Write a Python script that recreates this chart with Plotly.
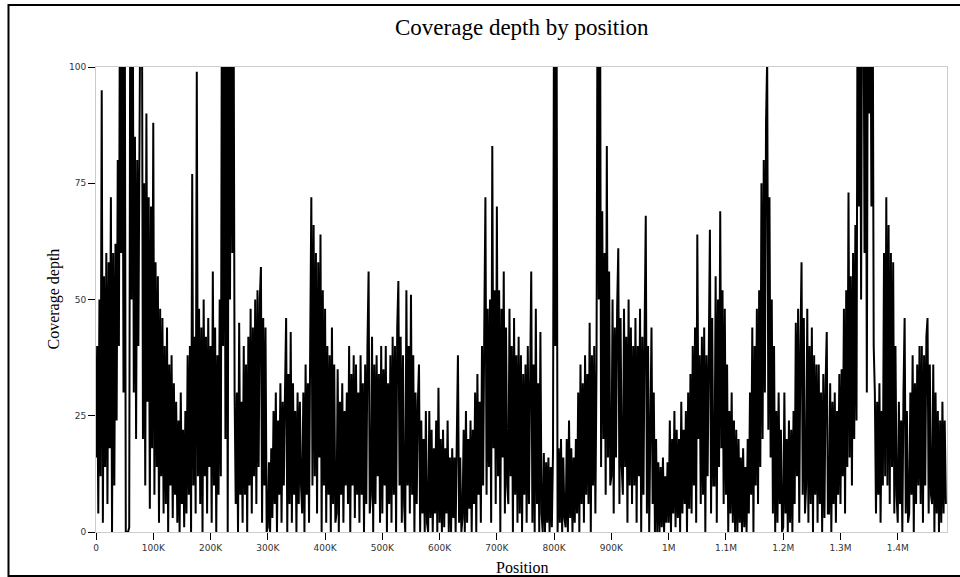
import plotly.graph_objects as go

# Coverage depth values, one value every 2 kb (peaks above 100 are clipped)
depth = [
    16, 40, 4, 50, 12, 95, 2, 55, 14, 60,
    6, 58, 18, 72, 0, 60, 10, 62, 24, 80,
    40, 130, 60, 130, 30, 130, 0, 0, 0, 1,
    130, 50, 130, 30, 85, 20, 80, 40, 88, 130,
    130, 20, 75, 10, 90, 28, 72, 5, 70, 18,
    88, 8, 58, 14, 55, 2, 48, 12, 46, 4,
    40, 6, 44, 0, 36, 10, 38, 3, 32, 8,
    28, 2, 24, 0, 30, 6, 22, 1, 26, 4,
    38, 8, 40, 0, 77, 10, 42, 4, 99, 12,
    48, 6, 44, 0, 50, 12, 42, 4, 46, 14,
    40, 2, 56, 10, 44, 0, 38, 8, 50, 12,
    130, 40, 130, 20, 130, 0, 130, 50, 130, 60,
    130, 30, 6, 30, 0, 45, 8, 28, 2, 40,
    8, 36, 0, 42, 10, 48, 4, 44, 12, 50,
    6, 52, 14, 50, 57, 2, 46, 10, 44, 0,
    1, 15, 0, 18, 3, 26, 6, 30, 0, 24,
    8, 32, 2, 28, 10, 30, 46, 0, 34, 6,
    43, 2, 32, 8, 26, 0, 30, 6, 28, 10,
    4, 30, 0, 36, 8, 32, 2, 40, 72, 10,
    66, 12, 60, 4, 58, 16, 64, 0, 52, 10,
    48, 2, 40, 8, 38, 0, 44, 6, 36, 2,
    4, 35, 0, 28, 8, 32, 2, 26, 10, 30,
    6, 40, 0, 34, 10, 38, 3, 36, 8, 30,
    2, 38, 8, 32, 0, 36, 6, 40, 56, 4,
    8, 42, 0, 36, 6, 38, 12, 34, 2, 40,
    4, 35, 10, 40, 0, 32, 6, 38, 2, 42,
    8, 40, 0, 44, 54, 10, 42, 2, 38, 6,
    0, 52, 10, 40, 4, 51, 8, 38, 0, 30,
    6, 28, 36, 0, 24, 4, 20, 0, 26, 2,
    0, 26, 3, 22, 0, 18, 4, 24, 0, 31,
    2, 20, 0, 22, 1, 18, 4, 24, 0, 16,
    0, 18, 3, 16, 0, 20, 38, 2, 16, 0,
    3, 22, 0, 26, 2, 20, 5, 24, 0, 22,
    6, 30, 0, 34, 8, 28, 2, 40, 10, 44,
    72, 8, 48, 14, 50, 2, 83, 18, 52, 6,
    70, 12, 52, 0, 48, 16, 56, 4, 44, 10,
    6, 48, 12, 40, 0, 46, 8, 38, 2, 42,
    4, 38, 0, 34, 8, 36, 2, 40, 6, 32,
    56, 2, 36, 0, 48, 6, 32, 0, 43, 4,
    0, 17, 0, 15, 2, 16, 0, 14, 1, 17,
    130, 40, 130, 0, 18, 2, 20, 0, 16, 3,
    1, 20, 0, 24, 3, 18, 0, 16, 2, 20,
    4, 30, 0, 36, 6, 32, 2, 38, 8, 34,
    6, 45, 0, 38, 10, 40, 4, 36, 130, 50,
    130, 14, 69, 20, 60, 8, 83, 16, 56, 10,
    12, 50, 4, 44, 16, 48, 61, 6, 46, 14,
    8, 48, 14, 42, 2, 50, 10, 44, 6, 40,
    10, 46, 2, 40, 12, 48, 0, 42, 8, 44,
    68, 4, 40, 0, 32, 44, 6, 30, 0, 20,
    0, 15, 0, 14, 1, 16, 0, 12, 2, 15,
    2, 24, 0, 20, 4, 26, 1, 22, 3, 20,
    0, 28, 4, 22, 6, 26, 0, 30, 5, 34,
    4, 40, 10, 44, 2, 64, 20, 38, 6, 42,
    8, 44, 0, 38, 12, 42, 65, 4, 46, 10,
    10, 55, 2, 50, 14, 69, 18, 52, 6, 48,
    8, 36, 0, 26, 4, 30, 2, 24, 0, 22,
    0, 20, 2, 16, 0, 18, 1, 14, 0, 20,
    4, 30, 8, 44, 0, 40, 10, 48, 6, 52,
    14, 75, 20, 80, 30, 88, 102, 22, 72, 16,
    50, 4, 40, 0, 26, 2, 30, 6, 22, 0,
    1, 30, 4, 20, 0, 24, 2, 22, 0, 26,
    6, 45, 12, 48, 2, 40, 58, 8, 46, 4,
    10, 48, 2, 40, 6, 44, 0, 38, 8, 36,
    2, 36, 6, 30, 0, 34, 3, 32, 43, 4,
    4, 32, 0, 28, 6, 30, 2, 26, 8, 34,
    6, 35, 12, 48, 4, 52, 14, 73, 16, 55,
    10, 60, 20, 66, 24, 130, 70, 130, 50, 130,
    130, 60, 130, 30, 130, 90, 130, 70, 130, 40,
    30, 4, 28, 8, 32, 2, 26, 10, 60, 12,
    72, 10, 66, 6, 60, 14, 58, 4, 40, 8,
    2, 28, 6, 24, 0, 30, 46, 4, 26, 2,
    4, 30, 8, 38, 0, 32, 6, 36, 10, 40,
    6, 40, 2, 38, 10, 42, 46, 4, 36, 8,
    6, 36, 0, 30, 4, 26, 0, 24, 2, 28,
    4, 24, 6,
]
step_bp = 2000
positions = [i * step_bp for i in range(len(depth))]

x_tick_vals = [0, 100000, 200000, 300000, 400000, 500000, 600000, 700000,
               800000, 900000, 1000000, 1100000, 1200000, 1300000, 1400000]
x_tick_text = ["0", "100K", "200K", "300K", "400K", "500K", "600K", "700K",
               "800K", "900K", "1M", "1.1M", "1.2M", "1.3M", "1.4M"]
y_tick_vals = [0, 25, 50, 75, 100]
y_tick_text = ["0", "25", "50", "75", "100"]

fig = go.Figure()
fig.add_trace(go.Scatter(
    x=positions, y=depth, mode="lines",
    line=dict(color="black", width=2),
    hoverinfo="skip", showlegend=False,
))

L, R, T, B = 96, 13, 67, 45
W, H = 960, 577
pw, ph = W - L - R, H - T - B

def px_x(p):
    return (p - L) / pw

def px_y(p):
    return (H - B - p) / ph

axis_common = dict(
    showline=True, linecolor="#cccccc", linewidth=1, mirror=True,
    ticks="outside", tickcolor="black", ticklen=7, tickwidth=1,
    showgrid=False, zeroline=False,
    tickfont=dict(family="DejaVu Sans", size=9, color="#333333"),
)

fig.update_layout(
    width=W, height=H,
    margin=dict(l=L, r=R, t=T, b=B, pad=0),
    paper_bgcolor="white", plot_bgcolor="white",
    xaxis=dict(range=[0, 1486000], tickvals=x_tick_vals, ticktext=x_tick_text, **axis_common),
    yaxis=dict(range=[0, 100], tickvals=y_tick_vals, ticktext=y_tick_text, **axis_common),
    annotations=[
        dict(text="Coverage depth by position", xref="paper", yref="paper",
             x=0.5, y=px_y(27), xanchor="center", yanchor="middle", showarrow=False,
             font=dict(family="Liberation Serif", size=23, color="black")),
        dict(text="Position", xref="paper", yref="paper",
             x=0.5, y=px_y(567), xanchor="center", yanchor="middle", showarrow=False,
             font=dict(family="Liberation Serif", size=16, color="black")),
        dict(text="Coverage depth", xref="paper", yref="paper",
             x=px_x(53), y=0.5, xanchor="center", yanchor="middle", showarrow=False,
             textangle=-90,
             font=dict(family="Liberation Serif", size=16, color="black")),
    ],
    shapes=[
        dict(type="rect", xref="paper", yref="paper",
             x0=px_x(8.5), x1=px_x(975), y0=px_y(576), y1=px_y(5),
             line=dict(color="black", width=2), fillcolor="rgba(0,0,0,0)", layer="above"),
    ],
)

fig.write_html("out.html")
